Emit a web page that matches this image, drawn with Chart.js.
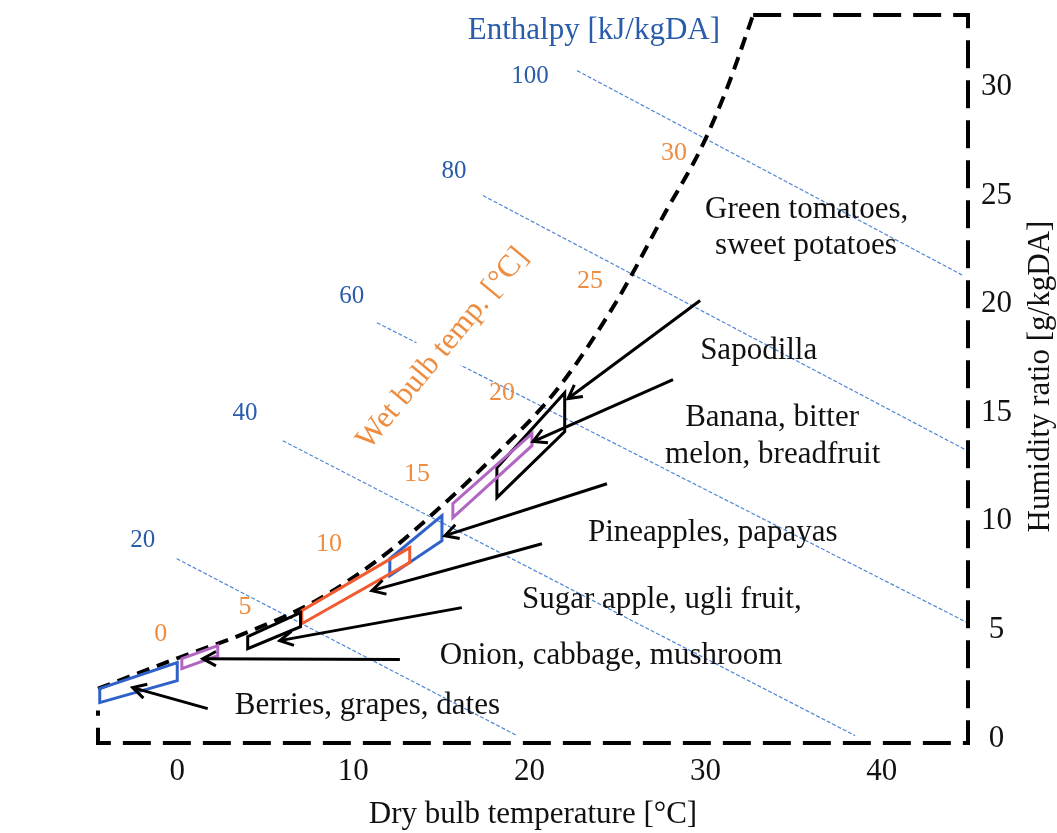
<!DOCTYPE html>
<html>
<head>
<meta charset="utf-8">
<script src="https://cdn.jsdelivr.net/npm/chart.js@4.4.1/dist/chart.umd.min.js"></script>
<style>
  html, body { margin: 0; padding: 0; background: #fff; }
</style>
</head>
<body>
<canvas id="chart" width="1057" height="833"></canvas>
<script>
// axis values: dry bulb [°C] across, humidity ratio [g/kgDA] up
const xTicks = [0, 10, 20, 30, 40];
const yTicks = [0, 5, 10, 15, 20, 25, 30];

// saturation curve
const satT = [-4.5, 0, 4, 8, 12, 15, 18, 21.6, 25, 27.7, 29.7, 31.2, 32.7];
const satW = [2.3, 3.7, 4.9, 6.4, 8.6, 10.7, 13.0, 16.1, 20.2, 24.2, 27.1, 29.9, 33.3];

// chart frame (dashed)
const frameT = [32.7, 44.9, 44.9, -4.5, -4.5];
const frameW = [33.3, 33.3, -0.2, -0.2, 1.3];

// enthalpy lines [kJ/kgDA]
const enthalpyLevels = [20, 40, 60, 80, 100];
const enthStartT = [-0.03, 5.99, 11.34, 17.36, 22.70];
const enthStartW = [8.28, 13.71, 19.14, 24.99, 30.74];
const enthEndT = [19.29, 38.49, 44.86, 44.86, 44.63];
const enthEndW = [0.14, 0.14, 5.34, 13.25, 21.31];
const enthLabelT = [-1.96, 3.84, 9.91, 15.71, 20.03];
const enthLabelW = [9.11, 14.96, 20.34, 26.09, 30.46];

// wet bulb temperature marks [°C]
const wetBulbLevels = [0, 5, 10, 15, 20, 25, 30];
const wetLabelT = [-0.94, 3.84, 8.61, 13.61, 18.44, 23.44, 28.21];
const wetLabelW = [4.79, 6.07, 8.97, 12.15, 15.88, 21.03, 26.92];

// storage condition boxes (corners: top-left, top-right, bottom-right, bottom-left)
const boxNames = ["berries", "onion", "sugarApple", "pineapple", "banana", "sapodilla", "greenTomato"];
const boxT = [
  [-4.4, 0, 0, -4.4],
  [0.26, 2.3, 2.3, 0.26],
  [4.0, 7.0, 7.0, 4.0],
  [7.07, 13.2, 13.2, 7.07],
  [12.07, 15.03, 15.03, 12.07],
  [15.65, 20.14, 20.14, 15.65],
  [18.15, 22.0, 22.0, 18.15]
];
const boxW = [
  [2.3, 3.5, 2.67, 1.66],
  [3.68, 4.28, 3.82, 3.22],
  [4.69, 5.8, 5.15, 4.14],
  [5.89, 8.79, 8.1, 5.29],
  [8.28, 10.26, 9.11, 7.5],
  [10.81, 14.04, 13.48, 10.17],
  [12.47, 15.92, 14.13, 11.09]
];
const boxColors = ["#2e62c8", "#b266c2", "#000000", "#f25a30", "#2e62c8", "#b266c2", "#000000"];

// arrows from labels to boxes
const arrowTailT = [1.73, 12.64, 16.16, 20.71, 24.40, 28.15, 29.69];
const arrowTailW = [1.38, 3.64, 6.03, 8.97, 11.73, 16.52, 20.16];
const arrowHeadT = [-2.53, 1.45, 5.82, 11.05, 15.20, 20.20, 22.19];
const arrowHeadW = [2.35, 3.68, 4.51, 6.81, 9.34, 13.67, 15.65];

// product labels (left edge, baseline) in chart units
const productText = [
  "Green tomatoes,", "sweet potatoes", "Sapodilla", "Banana, bitter", "melon, breadfruit",
  "Pineapples, papayas", "Sugar apple, ugli fruit,", "Onion, cabbage, mushroom", "Berries, grapes, dates"
];
const productT = [29.97, 30.54, 29.69, 28.84, 27.70, 23.32, 19.57, 14.91, 3.27];
const productW = [23.98, 22.32, 17.49, 14.40, 12.70, 9.11, 6.03, 3.45, 1.15];

const SERIF = "'Liberation Serif', 'Times New Roman', serif";
const BLUE_TEXT = "#2a5caa";
const ORANGE_TEXT = "#ee8c3f";

function pts(ts, ws) {
  return ts.map((t, i) => ({ x: t, y: ws[i] }));
}

function line(data, color, width, extra) {
  return Object.assign({
    data: data,
    borderColor: color,
    borderWidth: width,
    pointRadius: 0,
    fill: false,
    tension: 0,
    clip: false,
    borderCapStyle: "butt",
    borderJoinStyle: "miter"
  }, extra || {});
}

const datasets = [];
arrowTailT.forEach((t, i) => {
  datasets.push(line([{ x: t, y: arrowTailW[i] }, { x: arrowHeadT[i], y: arrowHeadW[i] }], "#000", 3));
});
boxT.forEach((bt, i) => {
  const ts = bt.concat([bt[0], bt[1]]);
  const ws = boxW[i].concat([boxW[i][0], boxW[i][1]]);
  datasets.push(line(pts(ts, ws), boxColors[i], 3));
});
datasets.push(line(pts(satT, satW), "#000", 4, { borderDash: [13, 8], cubicInterpolationMode: "monotone" }));
datasets.push(line(pts(frameT, frameW), "#000", 4, { borderDash: [28, 12] }));
enthalpyLevels.forEach((h, i) => {
  datasets.push(line([{ x: enthStartT[i], y: enthStartW[i] }, { x: enthEndT[i], y: enthEndW[i] }],
    "#4f86d8", 1.2, { borderDash: [4, 2] }));
});

const overlay = {
  id: "overlay",
  afterDatasetsDraw(chart) {
    const { ctx, scales: { x, y }, chartArea } = chart;
    const px = v => x.getPixelForValue(v);
    const py = v => y.getPixelForValue(v);
    ctx.save();

    // arrow heads
    ctx.strokeStyle = "#000";
    ctx.lineWidth = 3;
    ctx.lineCap = "butt";
    ctx.lineJoin = "miter";
    arrowHeadT.forEach((t, i) => {
      const hx = px(t), hy = py(arrowHeadW[i]);
      const a = Math.atan2(hy - py(arrowTailW[i]), hx - px(arrowTailT[i]));
      const len = 15, spread = 0.5;
      ctx.beginPath();
      ctx.moveTo(hx - len * Math.cos(a - spread), hy - len * Math.sin(a - spread));
      ctx.lineTo(hx, hy);
      ctx.lineTo(hx - len * Math.cos(a + spread), hy - len * Math.sin(a + spread));
      ctx.stroke();
    });

    // enthalpy numbers and title
    ctx.fillStyle = BLUE_TEXT;
    ctx.textAlign = "center";
    ctx.textBaseline = "middle";
    ctx.font = "25px " + SERIF;
    enthalpyLevels.forEach((h, i) => ctx.fillText(String(h), px(enthLabelT[i]), py(enthLabelW[i])));
    ctx.font = "31px " + SERIF;
    ctx.fillText("Enthalpy [kJ/kgDA]", px(23.66), py(32.58));

    // wet bulb numbers
    ctx.fillStyle = ORANGE_TEXT;
    ctx.font = "26px " + SERIF;
    wetBulbLevels.forEach((w, i) => ctx.fillText(String(w), px(wetLabelT[i]), py(wetLabelW[i])));

    // wet bulb title on a white patch
    ctx.save();
    ctx.translate(px(15.08), py(17.95));
    ctx.rotate(-50.4 * Math.PI / 180);
    ctx.font = "31px " + SERIF;
    const wt = "Wet bulb temp. [°C]";
    const ww = ctx.measureText(wt).width;
    ctx.fillStyle = "#fff";
    ctx.fillRect(-ww / 2 - 4, -24, ww + 8, 48);
    ctx.fillStyle = ORANGE_TEXT;
    ctx.fillText(wt, 0, 0);
    ctx.restore();

    // product labels
    ctx.fillStyle = "#111";
    ctx.textAlign = "left";
    ctx.textBaseline = "alphabetic";
    ctx.font = "31px " + SERIF;
    productText.forEach((s, i) => ctx.fillText(s, px(productT[i]), py(productW[i])));

    // right axis title, reading upwards
    ctx.save();
    ctx.translate(chartArea.right + 73, py(16.66));
    ctx.rotate(-Math.PI / 2);
    ctx.textAlign = "center";
    ctx.textBaseline = "middle";
    ctx.fillStyle = "#111";
    ctx.fillText("Humidity ratio [g/kgDA]", 0, 0);
    ctx.restore();

    ctx.restore();
  }
};

new Chart(document.getElementById("chart").getContext("2d"), {
  type: "line",
  data: { datasets: datasets },
  options: {
    responsive: false,
    animation: false,
    events: [],
    layout: { padding: { left: 98, top: 15, right: 0, bottom: 0 } },
    plugins: { legend: { display: false }, tooltip: { enabled: false } },
    scales: {
      x: {
        type: "linear",
        min: -4.5,
        max: 44.9,
        afterBuildTicks: s => { s.ticks = xTicks.map(v => ({ value: v })); },
        afterFit: s => { s.height = 90; s.paddingLeft = 0; s.paddingRight = 0; },
        grid: { display: false, drawTicks: false },
        border: { display: false },
        ticks: { autoSkip: false, maxRotation: 0, padding: 10, color: "#111", font: { family: SERIF, size: 31 } },
        title: { display: true, text: "Dry bulb temperature [°C]", padding: 0, color: "#111", font: { family: SERIF, size: 31 } }
      },
      y: {
        type: "linear",
        position: "right",
        min: -0.2,
        max: 33.3,
        afterBuildTicks: s => { s.ticks = yTicks.map(v => ({ value: v })); },
        afterFit: s => { s.width = 89; s.paddingTop = 0; s.paddingBottom = 0; },
        grid: { display: false, drawTicks: false },
        border: { display: false },
        ticks: { autoSkip: false, padding: 13, crossAlign: "center", color: "#111", font: { family: SERIF, size: 31 } }
      }
    }
  },
  plugins: [overlay]
});
</script>
</body>
</html>
